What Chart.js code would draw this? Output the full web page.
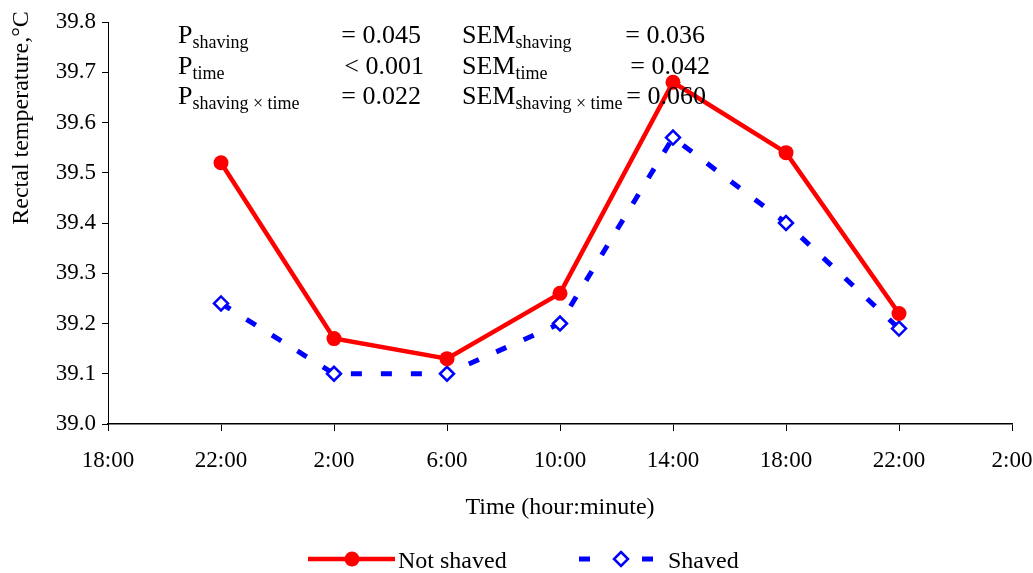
<!DOCTYPE html>
<html>
<head>
<meta charset="utf-8">
<script src="https://cdn.jsdelivr.net/npm/chart.js@4"></script>
<style>
html,body{margin:0;padding:0;background:#fff;}
#wrap{width:1033px;height:573px;position:relative;}
</style>
</head>
<body>
<div id="wrap"><canvas id="c" width="1033" height="573"></canvas></div>
<script>
const timeLabels = ['18:00','22:00','2:00','6:00','10:00','14:00','18:00','22:00','2:00'];
const notShaved = [null, 39.52, 39.17, 39.13, 39.26, 39.68, 39.54, 39.22, null];
const shaved = [null, 39.24, 39.10, 39.10, 39.20, 39.57, 39.40, 39.19, null];
const yTicks = [39.0, 39.1, 39.2, 39.3, 39.4, 39.5, 39.6, 39.7, 39.8];
const seriesNames = ['Not shaved', 'Shaved'];
const yTitle = 'Rectal temperature,\u00B0C';
const xTitle = 'Time (hour:minute)';
const statRows = [
  {p:'shaving', pv:'= 0.045', sem:'shaving', sv:'= 0.036'},
  {p:'time', pv:'< 0.001', sem:'time', sv:'= 0.042'},
  {p:'shaving \u00D7 time', pv:'= 0.022', sem:'shaving \u00D7 time', sv:'= 0.060'}
];

const FONT = "'Liberation Serif', 'Times New Roman', serif";
const RED = '#FF0000', BLUE = '#0000FF';

const overlay = {
  id: 'overlay',
  afterDraw(chart) {
    const ctx = chart.ctx;
    ctx.save();
    ctx.fillStyle = '#000';
    // y title
    ctx.save();
    ctx.translate(28, 118);
    ctx.rotate(-Math.PI/2);
    ctx.font = '24px ' + FONT;
    ctx.textAlign = 'center';
    ctx.textBaseline = 'alphabetic';
    ctx.fillText(yTitle, 0, 0);
    ctx.restore();
    // stats text
    const baselines = [43, 74, 104];
    const pvEnd = [421, 424, 421];
    const svEnd = [705, 710, 706];
    statRows.forEach((r, i) => {
      const b = baselines[i];
      ctx.textAlign = 'left';
      ctx.font = '26px ' + FONT;
      ctx.fillText('P', 178, b);
      let w = ctx.measureText('P').width;
      ctx.font = '18px ' + FONT;
      ctx.fillText(r.p, 178 + w, b + 5);
      ctx.font = '26px ' + FONT;
      ctx.textAlign = 'right';
      ctx.fillText(r.pv, pvEnd[i], b);
      ctx.textAlign = 'left';
      ctx.fillText('SEM', 462, b);
      w = ctx.measureText('SEM').width;
      ctx.font = '18px ' + FONT;
      ctx.fillText(r.sem, 462 + w, b + 5);
      ctx.font = '26px ' + FONT;
      ctx.textAlign = 'right';
      ctx.fillText(r.sv, svEnd[i], b);
    });
    // legend
    const ly = 559;
    ctx.strokeStyle = RED; ctx.lineWidth = 4.5; ctx.setLineDash([]);
    ctx.beginPath(); ctx.moveTo(308, ly); ctx.lineTo(395, ly); ctx.stroke();
    ctx.fillStyle = RED;
    ctx.beginPath(); ctx.arc(352, ly, 7.5, 0, Math.PI*2); ctx.fill();
    ctx.fillStyle = '#000';
    ctx.font = '24px ' + FONT; ctx.textAlign = 'left'; ctx.textBaseline = 'alphabetic';
    ctx.fillText(seriesNames[0], 398, 568);
    ctx.strokeStyle = BLUE; ctx.lineWidth = 5;
    ctx.beginPath(); ctx.moveTo(579, ly); ctx.lineTo(590, ly); ctx.moveTo(642, ly); ctx.lineTo(653, ly); ctx.stroke();
    ctx.lineWidth = 2.5;
    ctx.fillStyle = '#fff';
    ctx.beginPath(); ctx.moveTo(621, ly-7); ctx.lineTo(628, ly); ctx.lineTo(621, ly+7); ctx.lineTo(614, ly); ctx.closePath(); ctx.fill(); ctx.stroke();
    ctx.fillStyle = '#000';
    ctx.fillText(seriesNames[1], 668, 568);
    ctx.restore();
  }
};

new Chart(document.getElementById('c'), {
  type: 'line',
  data: {
    labels: timeLabels,
    datasets: [
      {
        label: seriesNames[0], data: notShaved,
        borderColor: RED, backgroundColor: RED, borderWidth: 4.5,
        pointStyle: 'circle', pointRadius: 7.5, pointBackgroundColor: RED, pointBorderColor: RED, pointBorderWidth: 0,
        tension: 0, spanGaps: false
      },
      {
        label: seriesNames[1], data: shaved,
        borderColor: BLUE, backgroundColor: '#fff', borderWidth: 5, borderDash: [11, 19],
        pointStyle: 'rectRot', pointRadius: 7, pointBackgroundColor: '#fff', pointBorderColor: BLUE, pointBorderWidth: 2.5,
        tension: 0
      }
    ]
  },
  options: {
    responsive: false, animation: false, devicePixelRatio: 1,
    layout: { padding: { top: 22, right: 21, left: 0, bottom: 0 } },
    plugins: { legend: { display: false }, tooltip: { enabled: false } },
    scales: {
      x: {
        type: 'category', offset: false,
        grid: { display: true, drawOnChartArea: false, drawTicks: true, tickLength: 7, color: '#000', lineWidth: 1 },
        border: { display: true, color: '#000', width: 1.5 },
        ticks: { color: '#000', font: { family: FONT, size: 23 }, padding: 16, maxRotation: 0, autoSkip: false },
        title: { display: true, text: xTitle, color: '#000', font: { family: FONT, size: 24 }, padding: { top: 0, bottom: 51 } },
        afterFit(s) { s.height = 149; s.paddingLeft = 0; s.paddingRight = 0; }
      },
      y: {
        min: yTicks[0], max: yTicks[yTicks.length-1],
        afterBuildTicks(s) { s.ticks = yTicks.map(v => ({ value: v })); },
        grid: { display: true, drawOnChartArea: false, drawTicks: true, tickLength: 6, color: '#000', lineWidth: 1 },
        border: { display: true, color: '#000', width: 1 },
        ticks: { color: '#000', font: { family: FONT, size: 23 }, padding: 6, callback: v => Number(v).toFixed(1) },
        afterFit(s) { s.width = 108; s.paddingTop = 0; s.paddingBottom = 0; }
      }
    }
  },
  plugins: [overlay]
});
</script>
</body>
</html>
